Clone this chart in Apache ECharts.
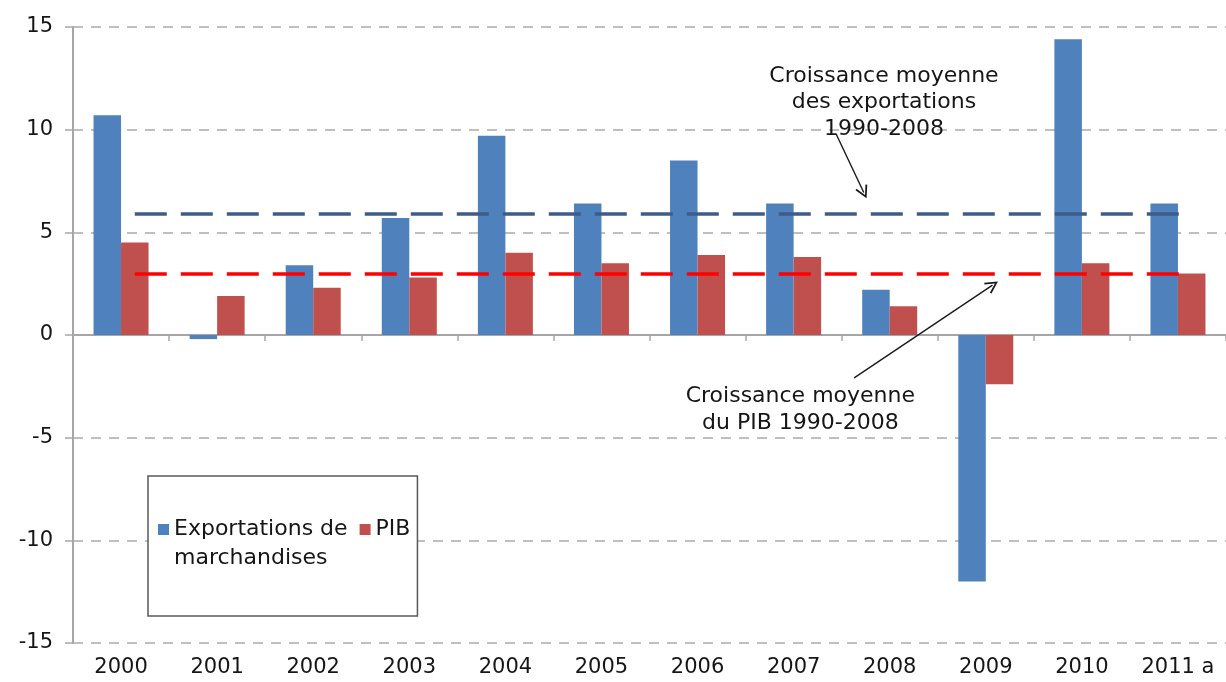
<!DOCTYPE html>
<html><head><meta charset="utf-8">
<script src="https://cdn.jsdelivr.net/npm/echarts@6/dist/echarts.min.js"></script>
<style>html,body{margin:0;padding:0;background:#fff}#c{width:1226px;height:682px}</style>
</head><body><div id="c"></div>
<script>
// ---- data ----
const categories = ['2000','2001','2002','2003','2004','2005','2006','2007','2008','2009','2010','2011 a'];
const exportations = [10.7, -0.2, 3.4, 5.7, 9.7, 6.4, 8.5, 6.4, 2.2, -12.0, 14.4, 6.4];
const pib = [4.5, 1.9, 2.3, 2.8, 4.0, 3.5, 3.9, 3.8, 1.4, -2.4, 3.5, 3.0];
const moyenneExport = 5.9;
const moyennePib = 3.0;
const yMin = -15, yMax = 15, yStep = 5;
const serieExport = 'Exportations de marchandises';
const seriePib = 'PIB';
const legendLabels = { 'Exportations de marchandises': '\nExportations de\nmarchandises', 'PIB': 'PIB' };
const noteExport = 'Croissance moyenne\ndes exportations\n1990-2008';
const notePib = 'Croissance moyenne\ndu PIB 1990-2008';

// annotation placement (in axis units: category index, value)
const noteExportPos = [7.94, 11.33];
const notePibPos = [7.07, -3.64];
const arrowExport = [[7.44, 9.81], [7.73, 6.94]];
const arrowPib = [[7.63, -2.09], [9.07, 2.43]];

const FONT = 'DejaVu Sans';
const TXT = '#161616';
const AX = '#A6A6A6';
const OPEN_ARROW = 'path://M5,0 L10,10 L8.8,10.8 L5,3 L1.2,10.8 L0,10 Z';

const chart = echarts.init(document.getElementById('c'), null, {renderer: 'canvas'});
chart.setOption({
  animation: false,
  backgroundColor: '#fff',
  grid: { left: 73, top: 27, width: 1157, height: 616, containLabel: false },
  legend: {
    left: 148, top: 476, orient: 'horizontal',
    data: [serieExport, seriePib],
    icon: 'rect', itemWidth: 11, itemHeight: 11, itemGap: 12,
    padding: [10, 7, 43, 10],
    borderColor: '#595959', borderWidth: 1.5, backgroundColor: '#fff',
    formatter: n => legendLabels[n],
    textStyle: { fontSize: 22, fontFamily: FONT, color: TXT, lineHeight: 29 },
    selectedMode: false
  },
  xAxis: [
    { type: 'category', data: categories, position: 'top',
      axisLine: { onZero: true, lineStyle: { color: AX, width: 2 } },
      axisTick: { show: true, inside: true, length: 6, lineStyle: { color: AX, width: 1.5 } },
      axisLabel: { show: false }, splitLine: { show: false } },
    { type: 'category', data: categories, position: 'bottom',
      axisLine: { show: false, onZero: false }, axisTick: { show: false },
      axisLabel: { fontSize: 21, fontFamily: FONT, color: TXT, margin: 14 }, splitLine: { show: false } },
    { type: 'value', min: -0.5, max: categories.length - 0.5, show: false }
  ],
  yAxis: {
    type: 'value', min: yMin, max: yMax, interval: yStep,
    axisLine: { show: true, onZero: false, lineStyle: { color: AX, width: 2 } },
    axisTick: { show: true, length: 8, lineStyle: { color: AX, width: 1.5 } },
    axisLabel: { fontSize: 21, fontFamily: FONT, color: TXT, margin: 20 },
    splitLine: { lineStyle: { type: [10, 8], color: '#BFBFBF', width: 2 } }
  },
  series: [
    { name: serieExport, type: 'bar', xAxisIndex: 0, data: exportations,
      barWidth: 27.5, barGap: '0%', itemStyle: { color: '#4F81BD' } },
    { name: seriePib, type: 'bar', xAxisIndex: 0, data: pib,
      barWidth: 27.5, barGap: '0%', itemStyle: { color: '#C0504D' },
      markLine: {
        silent: true, symbol: ['none', 'none'], label: { show: false }, z: 10,
        lineStyle: { type: [32, 14], width: 3.5 },
        data: [
          [ { coord: [categories[0], moyenneExport], lineStyle: { color: '#3E5C88', type: [32, 14], width: 3.5 } },
            { coord: [categories[categories.length - 1], moyenneExport] } ],
          [ { coord: [categories[0], moyennePib], lineStyle: { color: '#FF0000', type: [32, 14], width: 3.5 } },
            { coord: [categories[categories.length - 1], moyennePib] } ]
        ]
      } },
    { type: 'lines', coordinateSystem: 'cartesian2d', xAxisIndex: 2, yAxisIndex: 0, z: 12,
      silent: true, symbol: ['none', OPEN_ARROW], symbolSize: [11, 13],
      lineStyle: { color: '#1a1a1a', width: 1.4, opacity: 1, curveness: 0 },
      data: [ { coords: arrowExport }, { coords: arrowPib } ] },
    { type: 'scatter', xAxisIndex: 2, yAxisIndex: 0, symbolSize: 0, z: 12, silent: true,
      itemStyle: { opacity: 1 },
      label: { show: true, position: 'inside', fontSize: 22, fontFamily: FONT, color: TXT, opacity: 1,
               lineHeight: 26.5, align: 'center', formatter: p => p.data.name },
      data: [ { value: noteExportPos, name: noteExport }, { value: notePibPos, name: notePib } ] }
  ]
});
</script>
</body></html>
